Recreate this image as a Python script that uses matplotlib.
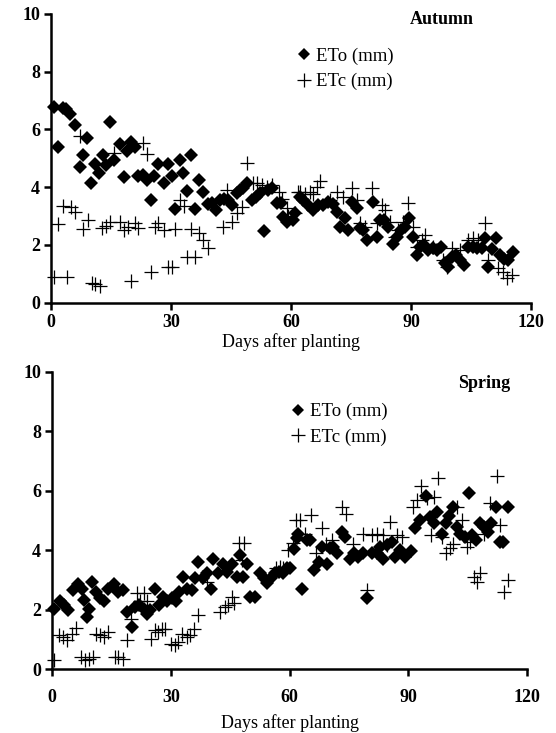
import numpy as np
import matplotlib
matplotlib.use("Agg")
import matplotlib.pyplot as plt

# autumn crop - ETo (diamonds)
aut_eto_day = [0.6, 1.8, 2.9, 3.75, 4.6, 6.0, 7.1, 7.9, 8.9, 9.9, 11.0, 12.0, 12.9, 13.75, 14.75,
               15.6, 17.1, 18.1, 18.9, 19.9, 21.0, 21.8, 22.9, 23.9, 25.0, 25.8, 26.8, 28.1, 29.1,
               30.2, 31.0, 32.1, 32.9, 33.9, 34.9, 36.0, 37.1, 38.1, 39.2, 40.2, 41.2, 42.25, 43.3,
               44.3, 45.2, 46.4, 47.25, 48.1, 49.1, 50.2, 51.25, 52.25, 53.25, 54.3, 55.3, 56.4,
               57.4, 58.1, 59.1, 60.4, 61.0, 62.25, 63.1, 64.3, 65.6, 66.8, 68.1, 69.3, 70.6, 71.6,
               72.25, 73.5, 74.3, 75.2, 76.4, 77.3, 78.1, 79.1, 80.4, 81.4, 82.25, 83.25, 84.3,
               85.6, 86.6, 87.4, 88.5, 89.6, 90.4, 91.4, 92.25, 93.25, 94.3, 95.4, 96.4, 97.5,
               98.5, 99.3, 100.2, 101.25, 102.25, 103.25, 104.3, 105.4, 106.4, 107.7, 108.5,
               109.3, 110.2, 111.25, 112.25, 113.25, 114.3, 115.4]
aut_eto_mm = [6.79, 5.4, 6.73, 6.7, 6.54, 6.15, 4.71, 5.1, 5.69, 4.16, 4.8, 4.48, 5.1, 4.77, 6.27,
              4.94, 5.5, 4.36, 5.27, 5.58, 5.4, 4.39, 4.42, 4.25, 3.56, 4.39, 4.8, 4.16, 4.8,
              4.39, 3.24, 4.94, 4.48, 3.88, 5.1, 3.24, 4.25, 3.85, 3.42, 3.46, 3.2, 3.56, 3.58,
              3.56, 3.38, 3.79, 3.9, 3.96, 4.16, 3.56, 3.67, 3.79, 2.49, 3.9, 3.96, 3.46,
              3.46, 2.98, 2.8, 2.86, 3.1, 3.67, 3.56, 3.38, 3.2, 3.38, 3.38, 3.5, 3.42, 3.15,
              2.63, 2.92, 2.52, 3.5, 3.27, 2.58, 2.52, 2.17, 3.5, 2.26, 2.86, 2.86, 2.63,
              2.05, 2.28, 2.52, 2.63, 2.92, 2.28, 1.65, 1.94, 2.0, 1.82, 1.88, 1.82, 1.94,
              1.36, 1.25, 1.59, 1.65, 1.48, 1.3, 1.94, 1.94, 1.88, 1.88, 2.23,
              1.25, 1.86, 2.23, 1.65, 1.53, 1.48, 1.77]

# autumn crop - ETc (plus)
aut_etc_day = [0.75, 1.8, 2.9, 3.9, 5.0, 6.0, 7.1, 7.9, 9.1, 10.2, 11.0, 12.1, 12.7, 13.75, 14.75,
               15.75, 17.1, 18.1, 19.1, 19.9, 21.0, 21.75, 22.9, 23.9, 25.0, 26.0, 26.8, 28.1,
               29.3, 30.2, 31.0, 32.1, 33.1, 33.9, 35.0, 36.0, 37.1, 38.1, 39.3, 42.9, 43.9, 45.2,
               46.4, 47.7, 49.1, 50.6, 51.5, 52.7, 53.9, 55.2, 57.1, 57.7, 58.9, 59.3, 61.0, 61.8,
               62.25, 63.5, 64.75, 65.6, 66.4, 67.25, 69.75, 71.4, 73.1, 75.2, 76.4, 77.3, 78.5,
               80.2, 81.4, 82.7, 83.5, 84.75, 86.0, 86.8, 88.1, 89.2, 90.6, 91.4, 92.7, 93.5,
               95.6, 98.1, 99.0, 100.2, 102.25, 104.3, 105.6, 106.8, 108.5, 109.3, 111.8, 113.1,
               113.9, 115.2]
aut_etc_mm = [0.9, 2.73, 3.35, 0.9, 3.33, 3.15, 5.77, 2.54, 2.86, 0.69, 0.65, 0.58, 2.58, 2.66, 2.8,
              5.17, 2.8, 2.52, 2.63, 0.75, 2.75, 2.58, 5.54, 5.15, 1.07, 2.63, 2.77, 2.52,
              1.25, 1.25, 2.54, 3.56, 3.35, 1.59, 2.54, 1.57, 2.4, 2.17, 1.88, 2.63, 3.9, 2.8,
              3.1, 3.33, 4.85, 4.16, 4.16, 4.08, 4.0, 4.08, 3.85, 3.6, 3.27, 3.0, 3.1, 3.85,
              3.84, 3.77, 3.84, 3.77, 4.0, 4.2, 3.56, 3.84, 3.67, 3.96, 3.56, 2.75, 2.63,
              3.96, 2.77, 3.38, 3.2, 2.8, 2.26, 2.52, 2.8, 3.46, 2.63, 1.94, 2.17, 2.34,
              1.94, 1.48, 1.25, 1.88, 1.82, 2.17, 2.23, 2.17, 2.75, 1.48, 1.19, 1.07,
              0.84, 0.96]

# spring crop - ETo (diamonds)
spr_eto_day = [0.5, 1.85, 3.0, 3.9, 5.2, 6.4, 7.5, 7.9, 8.8, 9.2, 10.0, 11.1, 12.1, 13.0, 14.2,
               15.5, 16.7, 18.0, 19.0, 20.1, 21.0, 22.0, 23.1, 23.9, 24.7, 26.0, 27.1, 28.1,
               29.1, 30.2, 31.3, 32.1, 33.0, 34.0, 35.3, 36.1, 36.9, 38.2, 39.1, 40.1, 40.7,
               42.0, 43.1, 44.1, 45.4, 46.6, 47.5, 48.3, 49.2, 50.0, 51.3, 52.5, 53.4, 54.2,
               55.2, 56.3, 57.4, 58.4, 59.3, 60.1, 61.1, 61.8, 62.2, 63.1, 64.3, 65.1, 66.2,
               67.3, 68.1, 69.4, 70.2, 71.0, 72.0, 73.2, 74.0, 75.3, 76.3, 77.3, 78.5, 79.6,
               80.7, 82.0, 82.8, 83.7, 84.5, 85.8, 86.6, 87.9, 89.1, 90.6, 91.7, 92.9, 94.4,
               95.5, 96.5, 97.3, 98.4, 99.5, 100.3, 101.3, 102.2, 103.0, 104.3, 105.4, 106.2,
               107.2, 108.1, 109.1, 110.2, 111.0, 112.1, 113.1, 113.9, 115.2]
spr_eto_mm = [2.04, 2.3, 2.15, 1.98, 2.66, 2.86, 2.68, 2.34, 1.76, 2.04, 2.94, 2.6, 2.38, 2.3, 2.71,
              2.88, 2.6, 2.66, 1.93, 1.42, 2.1, 2.15, 2.04, 1.87, 1.98, 2.71, 2.15, 2.43,
              2.3, 2.38, 2.3, 2.6, 3.1, 2.71, 2.66, 3.05, 3.61, 3.08, 3.22, 2.71, 3.72,
              3.24, 3.55, 3.27, 3.52, 3.1, 3.83, 3.11, 3.55, 2.43, 2.43, 3.22, 3.05, 2.9,
              3.05, 3.22, 3.27, 3.22, 3.39, 3.39, 4.04, 4.4, 4.56, 2.71, 4.34, 4.33, 3.33,
              3.61, 4.11, 3.55, 4.06, 4.11, 3.89, 4.62, 4.44, 3.72, 3.89, 3.78, 3.89, 2.38,
              3.89, 3.89, 4.11, 3.72, 4.17, 4.28, 3.78, 4.0, 3.78, 3.97, 4.73, 5.01, 5.82,
              5.12, 4.9, 5.29, 4.56, 4.9, 5.15, 5.46, 4.78, 4.56, 4.44, 5.91, 4.5,
              4.33, 4.9, 4.78, 4.62, 4.9, 5.46, 4.28, 4.28, 5.46]

# spring crop - ETc (plus)
spr_etc_day = [0.5, 1.6, 2.7, 3.7, 4.95, 6.05, 7.2, 8.3, 9.4, 10.4, 11.1, 12.1, 13.1, 14.2, 15.9,
               16.7, 17.8, 19.0, 19.9, 21.4, 22.2, 23.1, 23.9, 24.9, 26.0, 26.8, 27.7, 28.5,
               29.9, 31.1, 31.9, 32.8, 34.0, 34.9, 35.9, 36.9, 37.8, 39.1, 42.4, 43.7, 44.5,
               45.4, 46.0, 47.3, 47.9, 48.5, 56.6, 57.6, 58.4, 59.7, 60.9, 61.6, 62.5, 63.9,
               65.3, 66.6, 68.2, 69.3, 70.6, 73.2, 74.2, 76.1, 78.6, 79.6, 80.7, 82.0, 83.6,
               84.5, 85.3, 87.1, 88.3, 91.1, 92.1, 93.3, 94.6, 95.6, 96.4, 97.5, 98.4, 99.6,
               100.6, 101.4, 102.2, 103.5, 104.8, 105.6, 106.5, 107.3, 108.1, 109.1, 110.7,
               112.4, 113.1, 114.1, 115.2]
spr_etc_mm = [0.3, 1.14, 1.09, 0.98, 1.2, 1.37, 0.41, 0.3, 0.36, 0.41, 1.2, 1.14, 1.09, 1.26, 0.41,
              0.41, 0.36, 0.98, 1.7, 2.55, 2.3, 2.55, 2.3, 1.0, 1.31, 1.26, 1.34, 1.34,
              0.86, 0.81, 0.92, 1.2, 1.09, 1.14, 1.34, 1.82, 3.1, 2.94, 1.93, 2.1, 2.15,
              2.43, 2.23, 4.23, 3.66, 4.23, 3.39, 3.44, 3.39, 4.0, 4.25, 5.01, 5.01, 4.56,
              5.18, 3.89, 4.73, 4.22, 4.34, 5.46, 5.2, 4.22, 4.56, 2.66, 4.5, 4.56, 4.5,
              4.17, 4.95, 4.5, 4.45, 5.46, 5.68, 6.15, 5.74, 4.5, 5.79, 6.41, 4.45, 3.89,
              4.06, 4.22, 5.46, 5.03, 4.11, 4.28, 3.11, 2.94, 3.22, 4.56, 5.57,
              6.5, 4.84, 2.6, 2.99]

x_ticks = [0, 30, 60, 90, 120]
y_ticks = [0, 2, 4, 6, 8, 10]

serif = ["Liberation Serif", "DejaVu Serif"]
plt.rcParams["font.family"] = serif

fig = plt.figure(figsize=(5.56, 7.33), dpi=100)
ax1 = fig.add_axes([0.092, 0.587, 0.863, 0.394])
ax2 = fig.add_axes([0.094, 0.087, 0.854, 0.406])


def draw_panel(ax, eto_d, eto_v, etc_d, etc_v, season, leg_anchor, season_xy, xpad, labelpad):
    ax.plot(eto_d, eto_v, "D", color="black", ms=7.4, mew=0, label="ETo (mm)", clip_on=False)
    ax.plot(etc_d, etc_v, "+", color="black", ms=9.5, mew=0.9, label="ETc (mm)", clip_on=False)
    ax.set_xlim(0, 120)
    ax.set_ylim(0, 10)
    ax.set_xticks(x_ticks)
    ax.set_yticks(y_ticks)
    for s in ["top", "right"]:
        ax.spines[s].set_visible(False)
    for s in ["left", "bottom"]:
        ax.spines[s].set_linewidth(1.8)
    ax.tick_params(direction="out", length=5, width=1.8, labelsize=13, pad=3)
    ax.tick_params(axis="x", pad=xpad)
    for lab in ax.get_xticklabels() + ax.get_yticklabels():
        lab.set_fontweight("bold")
    ax.set_xlabel("Days after planting", fontsize=13, labelpad=labelpad)
    ax.text(season_xy[0], season_xy[1], season, transform=ax.transAxes, fontsize=13,
            fontweight="bold", ha="center", va="center")
    leg = ax.legend(loc="upper left", bbox_to_anchor=leg_anchor, frameon=False, fontsize=13.5,
                    handlelength=0.6, handletextpad=0.35, labelspacing=0.45, borderaxespad=0)
    leg.legend_handles[0].set_markersize(6.5)


draw_panel(ax1, aut_eto_day, aut_eto_mm, aut_etc_day, aut_etc_mm, "Autumn",
           (0.5, 0.91), (0.815, 0.98), 3, 2)
draw_panel(ax2, spr_eto_day, spr_eto_mm, spr_etc_day, spr_etc_mm, "Spring",
           (0.49, 0.92), (0.91, 0.96), 9, 6)

fig.savefig("out.png", dpi=100)
